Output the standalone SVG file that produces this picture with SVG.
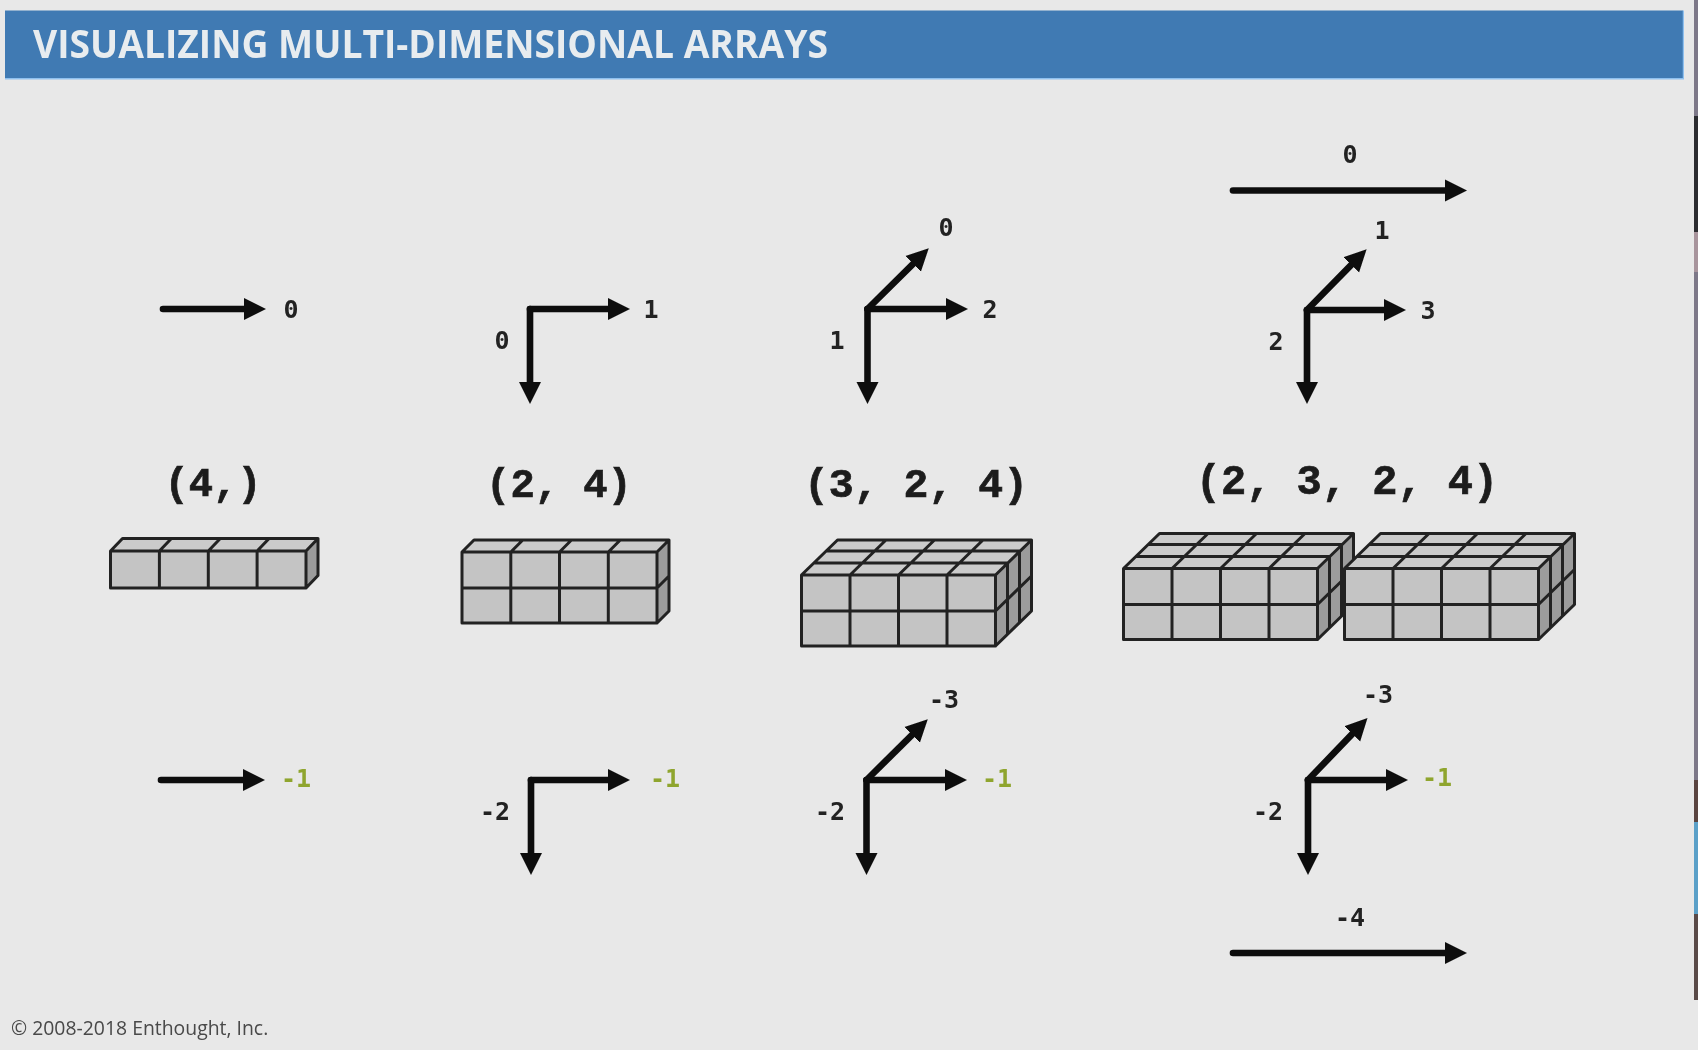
<svg xmlns="http://www.w3.org/2000/svg" width="1698" height="1050" viewBox="0 0 1698 1050">
<style>
.ax{stroke:#0d0d0d;stroke-width:6.600;fill:none;stroke-linecap:round;marker-end:url(#h)}
.l{font-family:"DejaVu Sans Mono","Liberation Mono",monospace;font-size:25px;font-weight:bold;fill:#222;text-anchor:middle}
.g{fill:#8fa52e}
.s{font-family:"Liberation Mono",monospace;font-size:40.500px;font-weight:bold;fill:#1c1c1c;stroke:#1c1c1c;stroke-width:.7;text-anchor:middle}
.b{stroke:#222;stroke-width:3;stroke-linejoin:round;fill:none}
.f{fill:#c4c4c4}.t{fill:#cbcbcb}.r{fill:#9c9c9c}
</style>
<defs>
<filter id="soft" x="0" y="0" width="1" height="1"><feGaussianBlur stdDeviation="0.600"/></filter>
<marker id="h" markerUnits="userSpaceOnUse" markerWidth="24" markerHeight="24" refX="6" refY="12" orient="auto"><path d="M0,1 L22,12 L0,23z" fill="#0d0d0d"/></marker>
<g id="box3">
<path class="f" d="M0,0H194V71H0z"/><path class="t" d="M0,0L36,-35H230L194,0z"/><path class="r" d="M194,0L230,-35V36L194,71z"/>
<path class="b" d="M0,0H194V71H0z M0,36H194 M48.500,0V71 M97,0V71 M145.500,0V71 M0,0L36,-35H230L194,0 M48.500,0L84.500,-35 M97,0L133,-35 M145.500,0L181.500,-35 M12,-12H206 M24,-24H218 M230,-35V36L194,71 M194,36L230,1 M206,-12V59 M218,-24V47"/>
</g>
</defs>
<rect width="1698" height="1050" fill="#e8e8e8"/>
<g id="edge-strip">
<rect x="1694" y="0" width="4" height="1000" fill="#7d7888"/>
<rect x="1694" y="116" width="4" height="116" fill="#2c2c30"/>
<rect x="1694" y="232" width="4" height="40" fill="#a8949c"/>
<rect x="1694" y="780" width="4" height="42" fill="#5a4440"/>
<rect x="1694" y="822" width="4" height="92" fill="#5ba0c8"/>
<rect x="1694" y="914" width="4" height="86" fill="#5a4a48"/>
</g>
<g filter="url(#soft)">
<g id="header"><rect x="5" y="10.500" width="1678" height="68" fill="#3f7ab3"/><path d="M5,78.800H1683.500V10.500" fill="none" stroke="#8fc0ee" stroke-width="1.500"/>
<text x="33" y="58" font-family="'Open Sans','Noto Sans',sans-serif" font-size="39" font-weight="700" fill="#e8ecef" textLength="795" lengthAdjust="spacingAndGlyphs">VISUALIZING MULTI-DIMENSIONAL ARRAYS</text></g>
<g id="connectors">
<path class="ax" d="M163,309H250"/>
<path class="ax" d="M530,309V388"/><path class="ax" d="M530,309H614"/>
<path class="ax" d="M867.500,309V388"/><path class="ax" d="M867.500,309H952"/><path class="ax" d="M867.500,309L917.400,259.600"/>
<path class="ax" d="M1233,190.500H1451"/>
<path class="ax" d="M1307,310V388"/><path class="ax" d="M1307,310H1390"/><path class="ax" d="M1307,310L1355.400,260.600"/>
<path class="ax" d="M161,780H249"/>
<path class="ax" d="M531,780V859"/><path class="ax" d="M531,780H614"/>
<path class="ax" d="M866.500,780V859"/><path class="ax" d="M866.500,780H951"/><path class="ax" d="M866.500,780L916.400,730.600"/>
<path class="ax" d="M1308,780V859"/><path class="ax" d="M1308,780H1392"/><path class="ax" d="M1308,780L1356.400,729.600"/>
<path class="ax" d="M1233,953H1451"/>
</g>
<g id="labels-top">
<text class="l" x="291" y="318">0</text>
<text class="l" x="651" y="318">1</text><text class="l" x="502" y="349">0</text>
<text class="l" x="946" y="236">0</text><text class="l" x="990" y="318">2</text><text class="l" x="837" y="349">1</text>
<text class="l" x="1350" y="163">0</text><text class="l" x="1382" y="239">1</text><text class="l" x="1428" y="319">3</text><text class="l" x="1276" y="350">2</text>
</g>
<g id="labels-bottom">
<text class="l g" x="296" y="787">-1</text>
<text class="l g" x="665" y="787">-1</text><text class="l" x="495" y="820">-2</text>
<text class="l" x="944" y="708">-3</text><text class="l g" x="997" y="787">-1</text><text class="l" x="830" y="820">-2</text>
<text class="l" x="1378" y="703">-3</text><text class="l g" x="1437" y="786">-1</text><text class="l" x="1268" y="820">-2</text><text class="l" x="1350" y="926">-4</text>
</g>
<g id="array-1d"><text class="s" x="213" y="496">(4,)</text>
<g transform="translate(0,1)"><path class="f" d="M110.500,550H306V587H110.500z"/><path class="t" d="M110.500,550L122.500,537.500H318L306,550z"/><path class="r" d="M306,550L318,537.500V574.500L306,587z"/>
<path class="b" d="M110.500,550H306V587H110.500z M159.400,550V587 M208.300,550V587 M257.100,550V587 M110.500,550L122.500,537.500H318L306,550 M159.400,550L171.400,537.500 M208.300,550L220.300,537.500 M257.100,550L269.100,537.500 M318,537.500V574.500L306,587"/></g></g>
<g id="array-2d"><text class="s" x="559" y="497">(2, 4)</text>
<g transform="translate(0,1)"><path class="f" d="M462,551H657V622H462z"/><path class="t" d="M462,551L474,539H669L657,551z"/><path class="r" d="M657,551L669,539V610L657,622z"/>
<path class="b" d="M462,551H657V622H462z M462,587H657 M510.800,551V622 M559.500,551V622 M608.300,551V622 M462,551L474,539H669L657,551 M510.800,551L522.800,539 M559.500,551L571.500,539 M608.300,551L620.300,539 M669,539V610L657,622 M657,587L669,575"/></g></g>
<g id="array-3d"><text class="s" x="916" y="497" style="font-size:41.500px">(3, 2, 4)</text><use href="#box3" x="801.500" y="575"/></g>
<g id="array-4d"><text class="s" x="1347" y="494" style="font-size:42px">(2, 3, 2, 4)</text><use href="#box3" x="1123.500" y="568.500"/><use href="#box3" x="1344.500" y="568.500"/></g>
<g id="footer"><text x="11" y="1035" font-family="'Open Sans','Noto Sans',sans-serif" font-size="19.400" fill="#484848">© 2008-2018 Enthought, Inc.</text></g>
</g>
</svg>
